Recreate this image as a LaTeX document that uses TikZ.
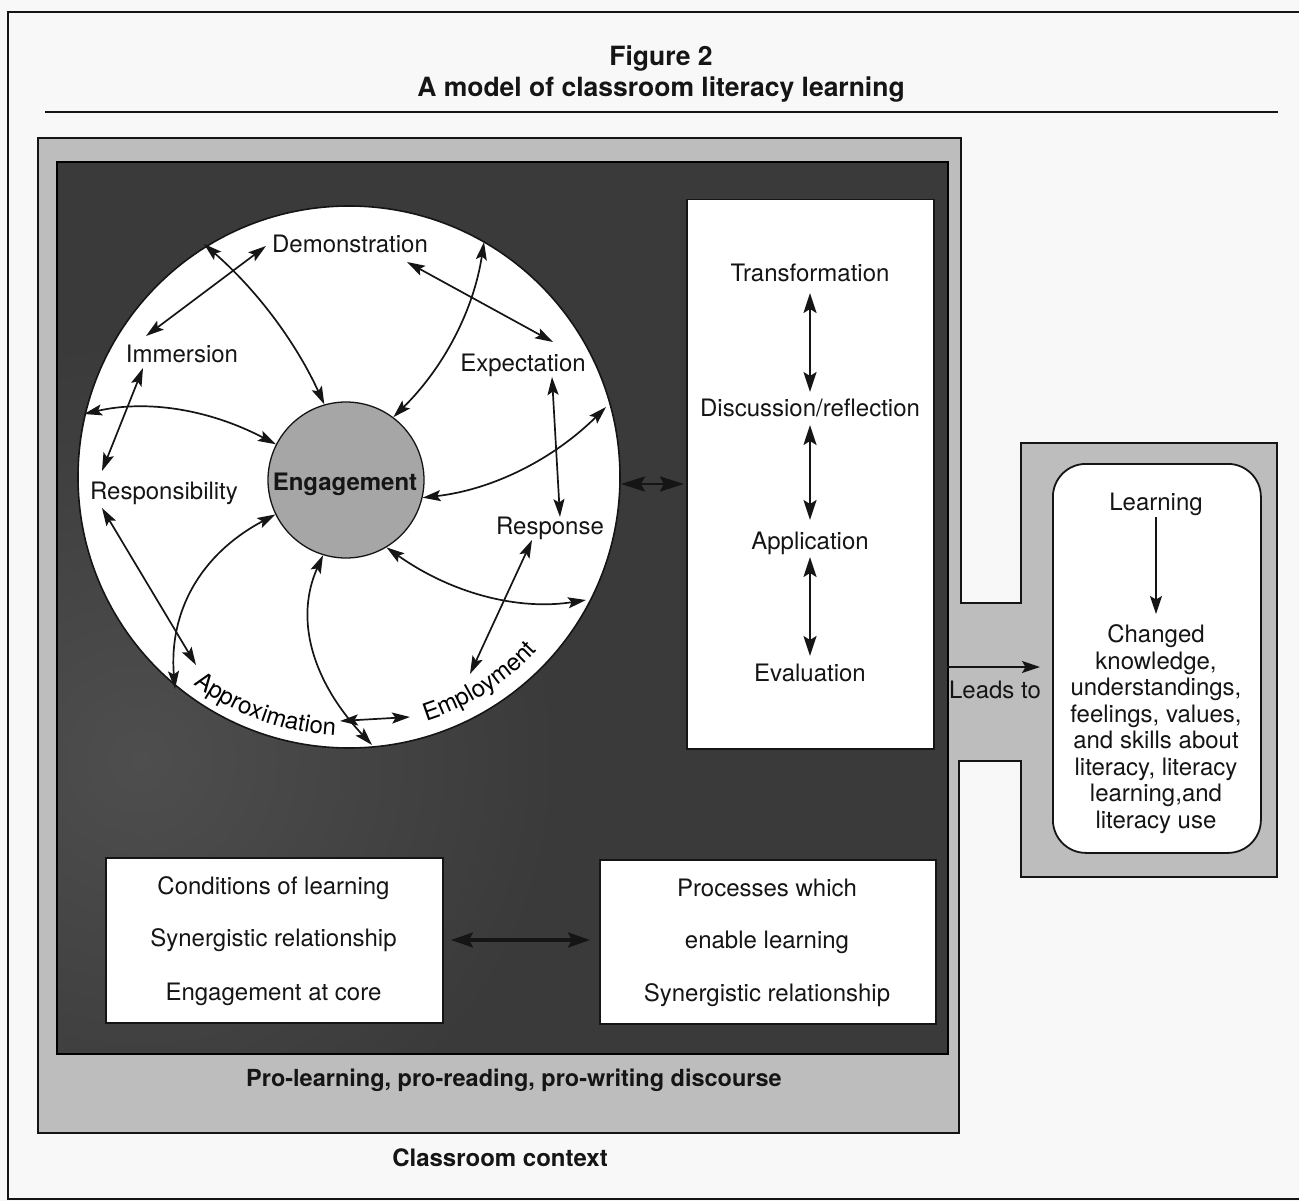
\documentclass[tikz,border=0pt]{standalone}
\usepackage{fontspec}
\setmainfont{TeX Gyre Heros}
\usetikzlibrary{arrows.meta,decorations.text}
\definecolor{lightg}{HTML}{BDBDBD}
\definecolor{darkg}{HTML}{3A3A3A}
\definecolor{darkglow}{HTML}{4E4E4E}
\definecolor{enggray}{HTML}{A6A6A6}
\definecolor{paper}{HTML}{F8F8F8}
\definecolor{ink}{HTML}{151515}
\begin{document}
\begin{tikzpicture}[x=1pt,y=1pt,
  font=\fontsize{24}{26.5}\selectfont,
  lbl/.style={anchor=base, inner sep=0pt, text=ink},
  boldlbl/.style={lbl, font=\fontsize{24}{26.5}\selectfont\bfseries},
  whitebox/.style={draw=ink, fill=white, line width=1.5pt, inner sep=0pt, anchor=north west},
  dbl/.style={{Stealth[length=18pt,width=11pt,inset=3.5pt]}-{Stealth[length=18pt,width=11pt,inset=3.5pt]}, line width=1.7pt, draw=ink},
  dblbig/.style={{Stealth[length=20pt,width=13pt,inset=4pt]}-{Stealth[length=20pt,width=13pt,inset=4pt]}, line width=2pt, draw=ink},
  dblfat/.style={{Stealth[length=24pt,width=15pt,inset=4pt]}-{Stealth[length=24pt,width=15pt,inset=4pt]}, line width=2.8pt, draw=ink},
  dblwide/.style={{Stealth[length=22pt,width=15pt,inset=4pt]}-{Stealth[length=22pt,width=15pt,inset=4pt]}, line width=3.2pt, draw=ink},
  sgl/.style={-{Stealth[length=18pt,width=12pt,inset=3.5pt]}, line width=1.7pt, draw=ink},
]
\useasboundingbox (0,0) rectangle (1299,-1201);
\fill[paper] (0,0) rectangle (1299,-1201);

% page frame and title
\draw[ink, line width=1.8pt] (1299,-12) -- (8,-12) -- (8,-1199) -- (1299,-1199);
\node[lbl, font=\fontsize{26.5}{30}\selectfont\bfseries] (fig) at (661,-66) {Figure 2};
\node[lbl, font=\fontsize{26.5}{30}\selectfont\bfseries] (title) at (661,-96.5) {A model of classroom literacy learning};
\draw[ink, line width=1.3pt] (45,-112) -- (1278,-112);

% classroom context (light grey, joined to the outcome box)
\draw[ink, fill=lightg, line width=1.6pt]
  (38,-138) -- (961,-138) -- (961,-603) -- (1021,-603) -- (1021,-443)
  -- (1277,-443) -- (1277,-877) -- (1021,-877) -- (1021,-761) -- (959,-761)
  -- (959,-1133) -- (38,-1133) -- cycle;

% discourse (dark box)
\begin{scope}
  \clip (57,-162) rectangle (948,-1054);
  \fill[darkg] (57,-162) rectangle (948,-1054);
  \shade[inner color=darkglow, outer color=darkg] (140,-760) circle (420);
\end{scope}
\draw[black, line width=2pt] (57,-162) rectangle (948,-1054);

% conditions circle
\node[circle, draw=ink, fill=white, line width=1.6pt, minimum size=542pt, inner sep=0pt] (big) at (349,-477) {};
\coordinate (bigc) at (349,-477);
\node[circle, draw=ink, fill=enggray, line width=1.3pt, minimum size=156pt, inner sep=0pt] (eng) at (346,-480) {};
\node[boldlbl] (engt) at (345,-490) {Engagement};

\node[lbl] (demo) at (350,-253) {Demonstration};
\node[lbl] (imm) at (182,-362) {Immersion};
\node[lbl] (expc) at (523,-371) {Expectation};
\node[lbl] (resp) at (164,-499) {Responsibility};
\node[lbl] (rspn) at (550,-534) {Response};

\path[decorate, decoration={text along path, text align=center,
  text={|\fontsize{24}{24}\selectfont|Approximation}}]
  (bigc) ++(222:259) arc[start angle=222, end angle=278, radius=259];
\path[decorate, decoration={text along path, text align=center,
  text={|\fontsize{24}{24}\selectfont|Employment}}]
  (bigc) ++(280:256) arc[start angle=280, end angle=325, radius=256];

% end points of the connectors in the circle
\coordinate (o2) at (204,-244);
\coordinate (o3) at (484,-242);
\coordinate (o6) at (606,-407);
\coordinate (o7) at (84,-414);
\coordinate (o10) at (175,-689);
\coordinate (o11) at (372,-745);
\coordinate (o14) at (586,-600);
\coordinate (imA) at (146,-336);
\coordinate (deA) at (266,-246);
\coordinate (deB) at (407,-262);
\coordinate (exA) at (553,-342);
\coordinate (exB) at (552,-377);
\coordinate (rnA) at (560,-517);
\coordinate (imB) at (143,-368);
\coordinate (rsA) at (102,-471);
\coordinate (rsB) at (102,-508);
\coordinate (apA) at (196,-665);
\coordinate (apB) at (340,-721);
\coordinate (emA) at (410,-717);
\coordinate (rnB) at (532,-540);
\coordinate (emB) at (470,-674);

\draw[dbl] (imA) -- (deA);
\draw[dbl] (deB) -- (exA);
\draw[dbl] (exB) -- (rnA);
\draw[dbl] (imB) -- (rsA);
\draw[dbl] (rsB) -- (apA);
\draw[dbl] (apB) -- (emA);
\draw[dbl] (rnB) -- (emB);

\draw[dbl] (o2) .. controls (255.3,-288.7) and (294.7,-340) .. (eng.106);
\draw[dbl] (o3) .. controls (473.7,-310) and (444,-367.3) .. (eng.53);
\draw[dbl] (o6) .. controls (553.3,-459.3) and (492.7,-489.7) .. (eng.-13);
\draw[dbl] (o7) .. controls (146,-399.7) and (208,-408.7) .. (eng.153);
\draw[dbl] (eng.206) .. controls (200.3,-554.3) and (168.7,-611.7) .. (o10);
\draw[dbl] (eng.253) .. controls (294.7,-618.3) and (311.3,-680) .. (o11);
\draw[dbl] (eng.301) .. controls (451.3,-593.3) and (517.7,-610.7) .. (o14);

% processes box
\node[whitebox, minimum width=247pt, minimum height=549pt] (tbox) at (686,-199) {};
\node[lbl] (trans) at (810,-282) {Transformation};
\node[lbl] (disc) at (810,-416) {Discussion/reflection};
\node[lbl] (appl) at (810,-549) {Application};
\node[lbl] (eval) at (810,-681) {Evaluation};
\coordinate (t1) at (810,-293);
\coordinate (t2) at (810,-392);
\coordinate (t3) at (810,-425);
\coordinate (t4) at (810,-520);
\coordinate (t5) at (810,-557);
\coordinate (t6) at (810,-656);
\draw[dblbig] (t1) -- (t2);
\draw[dblbig] (t3) -- (t4);
\draw[dblbig] (t5) -- (t6);

\coordinate (cb1) at (621,-484);
\coordinate (cb2) at (684,-484);
\draw[dblfat] (cb1) -- (cb2);

% lower boxes
\node[whitebox, minimum width=337pt, minimum height=165pt] (cond) at (105,-857) {};
\node[lbl] (c1) at (273.5,-894) {Conditions of learning};
\node[lbl] (c2) at (273.5,-946) {Synergistic relationship};
\node[lbl] (c3) at (273.5,-1000) {Engagement at core};
\node[whitebox, minimum width=336pt, minimum height=164pt] (proc) at (599,-859) {};
\node[lbl] (p1) at (767,-896) {Processes which};
\node[lbl] (p2) at (767,-948) {enable learning};
\node[lbl] (p3) at (767,-1001.5) {Synergistic relationship};
\coordinate (bA) at (451,-940);
\coordinate (bB) at (590,-940);
\draw[dblwide] (bA) -- (bB);

\node[boldlbl, font=\fontsize{23.5}{26}\selectfont\bfseries] (disc2) at (514,-1086) {Pro-learning, pro-reading, pro-writing discourse};
\node[boldlbl] (ctx) at (500,-1166) {Classroom context};

% outcome
\node[draw=ink, fill=white, line width=1.8pt, rounded corners=33pt, minimum width=208pt, minimum height=389pt, inner sep=0pt, anchor=north west] (outc) at (1052,-463) {};
\node[lbl] (learn) at (1156,-510) {Learning};
\node[text=ink, inner sep=0pt, anchor=north, align=center] (chg) at (1156,-624.5) {Changed\\knowledge,\\understandings,\\feelings, values,\\and skills about\\literacy, literacy\\learning,and\\literacy use};
\coordinate (lrA) at (1156,-517);
\coordinate (lrB) at (1156,-614);
\draw[sgl] (lrA) -- (lrB);
\node[lbl] (leads) at (995,-698) {Leads to};
\coordinate (lA) at (947,-667);
\coordinate (lB) at (1040,-667);
\draw[sgl] (lA) -- (lB);
\end{tikzpicture}
\end{document}
